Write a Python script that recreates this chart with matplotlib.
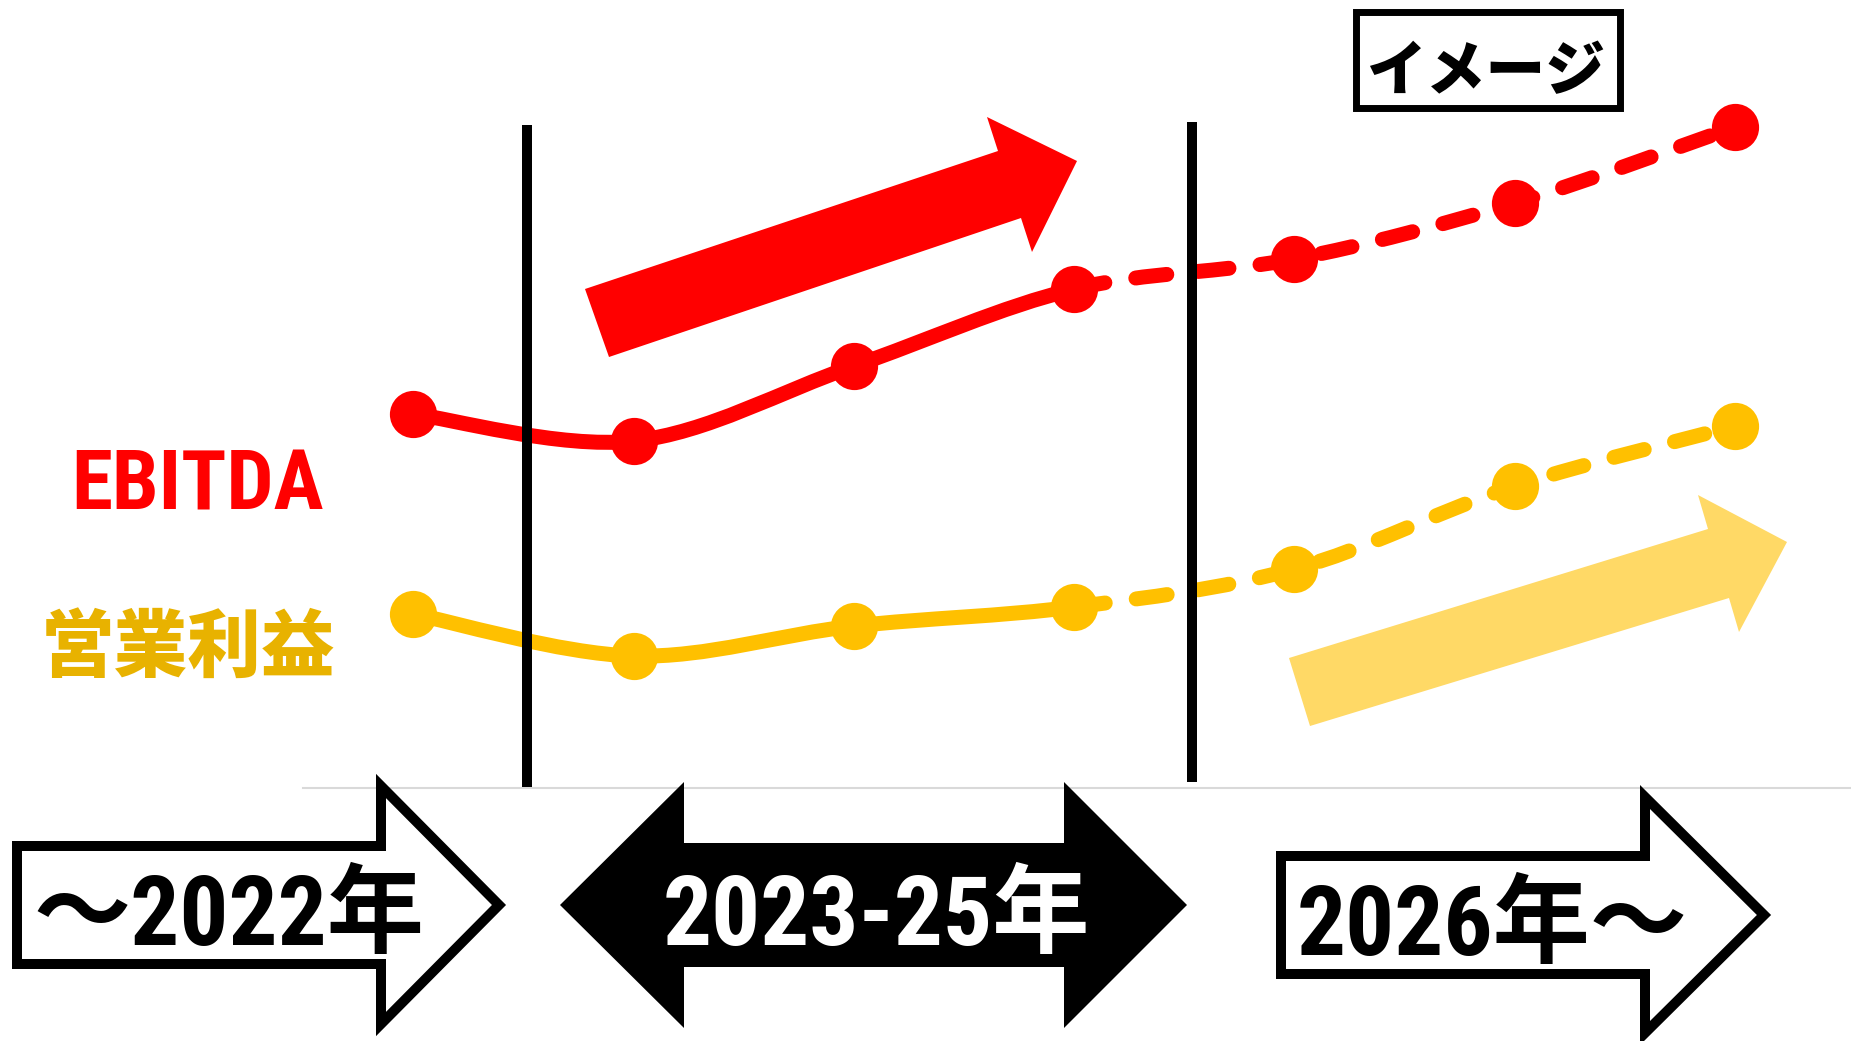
import numpy as np
import matplotlib
matplotlib.use('Agg')
import matplotlib.pyplot as plt
from matplotlib.path import Path
from matplotlib.patches import PathPatch, Polygon, Rectangle
from matplotlib import transforms
from matplotlib import font_manager

# ---------------- data ----------------
periods = ['2022', '2023', '2024', '2025', '2026', '2027', '2028']
ebitda = [37.4, 34.7, 42.2, 49.9, 52.9, 58.5, 66.1]
op_profit = [17.4, 13.2, 16.2, 18.1, 21.9, 30.2, 36.2]
n_actual = 4  # points drawn with a solid line; the rest dashed (image)
series_labels = ['EBITDA', '営業利益']
period_labels = ['～2022年', '2023-25年', '2026年～']
image_label = 'イメージ'

RED = '#FF0000'
YEL = '#FFC000'
YEL_LIGHT = '#FFD966'
YEL_TEXT = '#E8B200'

plt.rcParams['lines.scale_dashes'] = False
plt.rcParams['font.family'] = ['Noto Sans CJK JP', 'DejaVu Sans']

installed = {f.name for f in font_manager.fontManager.ttflist}
COND = 'Roboto Condensed' if 'Roboto Condensed' in installed else None
LATIN = COND or ('Liberation Sans' if 'Liberation Sans' in installed else 'DejaVu Sans')
PERIOD_FAMILY = [LATIN, 'Noto Sans CJK JP', 'DejaVu Sans']

W, H = 1851, 1041
fig = plt.figure(figsize=(W / 100, H / 100), dpi=100)
ax = fig.add_axes([0, 0, 1, 1])
ax.set_xlim(-1.8774, 6.5267)
ax.set_ylim(-25.3, 78.8)
ax.axis('off')

# pixel transform (origin top-left) for decorations
px = transforms.Affine2D().scale(1 / W, -1 / H).translate(0, 1) + fig.transFigure

x = np.arange(len(periods))


def smooth_path(xs, ys, i0, i1):
    n = len(xs)
    P = np.column_stack([xs, ys]).astype(float)
    verts = [P[i0]]
    codes = [Path.MOVETO]
    for i in range(i0, i1):
        p0 = P[max(i - 1, 0)]
        p1 = P[i]
        p2 = P[i + 1]
        p3 = P[min(i + 2, n - 1)]
        c1 = p1 + (p2 - p0) / 6.0
        c2 = p2 - (p3 - p1) / 6.0
        verts += [c1, c2, p2]
        codes += [Path.CURVE4] * 3
    return Path(verts, codes)


LW = 10.8
for vals, col in [(ebitda, RED), (op_profit, YEL)]:
    solid = smooth_path(x, vals, 0, n_actual - 1)
    dashed = smooth_path(x, vals, n_actual - 1, len(x) - 1)
    ax.add_patch(PathPatch(solid, fill=False, ec=col, lw=LW, capstyle='round',
                           joinstyle='round', zorder=3))
    ax.add_patch(PathPatch(dashed, fill=False, ec=col, lw=LW, capstyle='round',
                           joinstyle='round', linestyle=(0, (22.5, 22.5)), zorder=3))
    ax.plot(x, vals, 'o', ms=34, color=col, mec='none', zorder=4)

# baseline
ax.plot([303, 1851], [788, 788], color='#D9D9D9', lw=1.5, transform=px,
        zorder=1, clip_on=False)
# vertical separators
ax.plot([527, 527], [125, 787], color='black', lw=7.2, solid_capstyle='butt',
        transform=px, zorder=5, clip_on=False)
ax.plot([1192, 1192], [122, 782], color='black', lw=7.2, solid_capstyle='butt',
        transform=px, zorder=5, clip_on=False)

# trend arrows
red_arrow = [(585, 289), (998, 151), (987, 117), (1077, 161), (1032, 252),
             (1021, 218), (609, 357)]
yel_arrow = [(1289, 658), (1708, 529), (1698, 495), (1787, 542), (1739, 632),
             (1729, 598), (1310, 726)]
ax.add_patch(Polygon(red_arrow, closed=True, fc=RED, ec='none', transform=px,
                     zorder=2, clip_on=False))
ax.add_patch(Polygon(yel_arrow, closed=True, fc=YEL_LIGHT, ec='none', transform=px,
                     zorder=2, clip_on=False))

# period arrows
arrow1 = [(17, 846), (381, 846), (381, 786), (499, 905), (381, 1024),
          (381, 964), (17, 964)]
arrow2 = [(560, 905), (684, 782), (684, 843), (1064, 843), (1064, 782),
          (1187, 905), (1064, 1028), (1064, 967), (684, 967), (684, 1028)]
arrow3 = [(1281, 856), (1645, 856), (1645, 797), (1764, 915), (1645, 1033),
          (1645, 974), (1281, 974)]
ax.add_patch(Polygon(arrow1, closed=True, fc='white', ec='black', lw=7.2,
                     joinstyle='miter', transform=px, zorder=2, clip_on=False))
ax.add_patch(Polygon(arrow2, closed=True, fc='black', ec='none',
                     transform=px, zorder=2, clip_on=False))
ax.add_patch(Polygon(arrow3, closed=True, fc='white', ec='black', lw=7.2,
                     joinstyle='miter', transform=px, zorder=2, clip_on=False))

FS_PERIOD = 70 if COND else 72
ax.text(229, 945, period_labels[0], transform=px, ha='center', va='baseline',
        fontsize=FS_PERIOD, fontweight='bold', color='black', zorder=6,
        family=PERIOD_FAMILY)
ax.text(876, 945, period_labels[1], transform=px, ha='center', va='baseline',
        fontsize=FS_PERIOD, fontweight='bold', color='white', zorder=6,
        family=PERIOD_FAMILY)
ax.text(1492, 955, period_labels[2], transform=px, ha='center', va='baseline',
        fontsize=FS_PERIOD, fontweight='bold', color='black', zorder=6,
        family=PERIOD_FAMILY)

# image box
ax.add_patch(Rectangle((1356, 11.5), 263.5, 96, fc='white', ec='black', lw=5,
                       joinstyle='miter', transform=px, zorder=2, clip_on=False))
ax.text(1486, 90, image_label, transform=px, ha='center', va='baseline',
        fontsize=43, fontweight='heavy', color='black', zorder=6)

# series labels
if COND:
    ax.text(197, 509, series_labels[0], transform=px, ha='center', va='baseline',
            fontsize=60, fontweight='bold', color=RED, zorder=6,
            family=[COND, 'DejaVu Sans'])
else:
    ax.text(197, 509, series_labels[0], transform=px, ha='center', va='baseline',
            fontsize=56, fontweight='bold', color=RED, zorder=6)
ax.text(188, 671, series_labels[1], transform=px, ha='center', va='baseline',
        fontsize=53, fontweight='heavy', color=YEL_TEXT, zorder=6)

fig.savefig('out.png', dpi=100)
